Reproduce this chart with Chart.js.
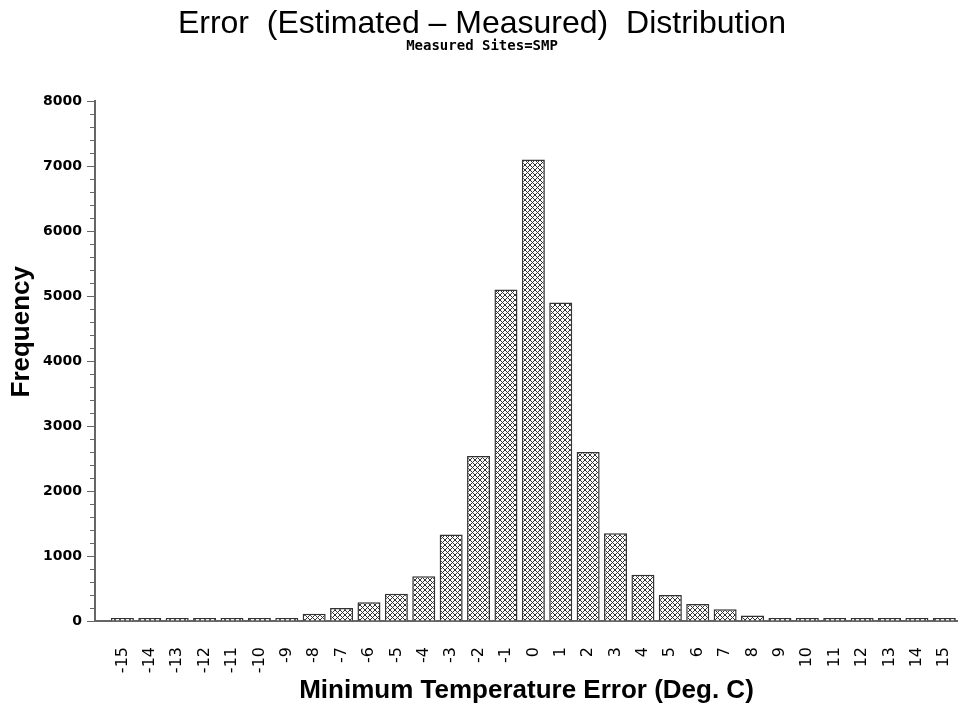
<!DOCTYPE html>
<html>
<head>
<meta charset="utf-8">
<script src="https://cdn.jsdelivr.net/npm/chart.js@4.4.1/dist/chart.umd.min.js"></script>
<style>
  body { margin: 0; background: #fff; }
  #wrap { width: 958px; height: 710px; }
</style>
</head>
<body>
<div id="wrap"><canvas id="chart" width="958" height="710"></canvas></div>
<script>
// error bins (deg C) and counts
var errorBins = [-15, -14, -13, -12, -11, -10, -9, -8, -7, -6, -5, -4, -3, -2, -1, 0,
                 1, 2, 3, 4, 5, 6, 7, 8, 9, 10, 11, 12, 13, 14, 15];
var frequency = [5, 5, 5, 8, 15, 30, 30, 110, 200, 290, 420, 690, 1330, 2540, 5100, 7100,
                 4900, 2600, 1350, 710, 400, 260, 180, 85, 40, 25, 10, 8, 5, 5, 10];
var yTicks = [0, 1000, 2000, 3000, 4000, 5000, 6000, 7000, 8000];

// cross hatch fill like the old SAS/GRAPH pattern
function makeHatch() {
  var c = document.createElement('canvas');
  c.width = 5; c.height = 5;
  var g = c.getContext('2d');
  g.fillStyle = '#fff';
  g.fillRect(0, 0, 5, 5);
  g.strokeStyle = '#333';
  g.lineWidth = 1;
  g.beginPath();
  g.moveTo(0, 0); g.lineTo(5, 5);
  g.moveTo(5, 0); g.lineTo(0, 5);
  g.stroke();
  return g.createPattern(c, 'repeat');
}

var points = errorBins.map(function (b, i) { return { x: b, y: frequency[i] }; });

// minor ticks on the y axis every 200, plus the y title (sits a bit above centre in the original)
var extras = {
  id: 'extras',
  afterDraw: function (chart) {
    var y = chart.scales.y, ctx = chart.ctx;
    ctx.save();
    ctx.strokeStyle = '#666';
    ctx.lineWidth = 1;
    for (var v = 0; v <= 8000; v += 200) {
      if (v % 1000 === 0) continue;
      var py = Math.round(y.getPixelForValue(v)) + 0.5;
      ctx.beginPath();
      ctx.moveTo(y.right - 5, py);
      ctx.lineTo(y.right, py);
      ctx.stroke();
    }
    ctx.translate(22, y.getPixelForValue(4450));
    ctx.rotate(-Math.PI / 2);
    ctx.fillStyle = '#000';
    ctx.font = 'bold 26px "Liberation Sans"';
    ctx.textAlign = 'center';
    ctx.textBaseline = 'middle';
    ctx.fillText('Frequency', 0, 0);
    ctx.restore();
  }
};

var ctx = document.getElementById('chart').getContext('2d');
var myChart = new Chart(ctx, {
  type: 'bar',
  data: {
    datasets: [{
      data: points,
      backgroundColor: makeHatch(),
      borderColor: '#333',
      borderWidth: 1.5,
      minBarLength: 3,
      barPercentage: 0.84,
      categoryPercentage: 1.0
    }]
  },
  options: {
    responsive: false,
    animation: false,
    layout: { padding: { left: 6, right: 0, top: 8, bottom: 4 } },
    plugins: {
      legend: { display: false },
      tooltip: { enabled: false },
      title: {
        display: true,
        text: 'Error  (Estimated \u2013 Measured)  Distribution',
        color: '#000',
        font: { family: 'Liberation Sans', size: 32, weight: 'normal', lineHeight: 1.0 },
        padding: { top: 0, bottom: 0 }
      },
      subtitle: {
        display: true,
        text: 'Measured Sites=SMP',
        color: '#000',
        font: { family: 'DejaVu Sans Mono', size: 14, weight: 'bold', lineHeight: 1.0 },
        padding: { top: -1, bottom: 48 }
      }
    },
    scales: {
      x: {
        type: 'linear',
        offset: false,
        min: -16,
        max: 15.5,
        afterBuildTicks: function (scale) {
          scale.ticks = errorBins.map(function (b) { return { value: b }; });
        },
        afterFit: function (scale) {
          scale.height = 85;
          scale.paddingLeft = 0;
          scale.paddingRight = 0;
        },
        grid: { display: false, drawTicks: false, offset: false },
        border: { display: true, color: '#666', width: 2 },
        ticks: {
          autoSkip: false,
          minRotation: 90,
          maxRotation: 90,
          padding: 26,
          color: '#000',
          font: { family: 'DejaVu Sans', size: 16 }
        },
        title: {
          display: true,
          text: 'Minimum Temperature Error (Deg. C)',
          color: '#000',
          font: { family: 'Liberation Sans', size: 26, weight: 'bold' },
          padding: { top: 0, bottom: 0 }
        }
      },
      y: {
        min: 0,
        max: 8000,
        afterBuildTicks: function (scale) {
          scale.ticks = yTicks.map(function (v) { return { value: v }; });
        },
        afterFit: function (scale) {
          scale.width = 89;
        },
        grid: { display: true, drawOnChartArea: false, drawTicks: true, tickLength: 8, color: '#666' },
        border: { display: true, color: '#666', width: 2 },
        ticks: {
          padding: 5,
          color: '#000',
          font: { family: 'DejaVu Sans', size: 14, weight: 'bold' },
          callback: function (v) { return String(v); }
        },
        title: { display: false }
      }
    }
  },
  plugins: [extras]
});
</script>
</body>
</html>
